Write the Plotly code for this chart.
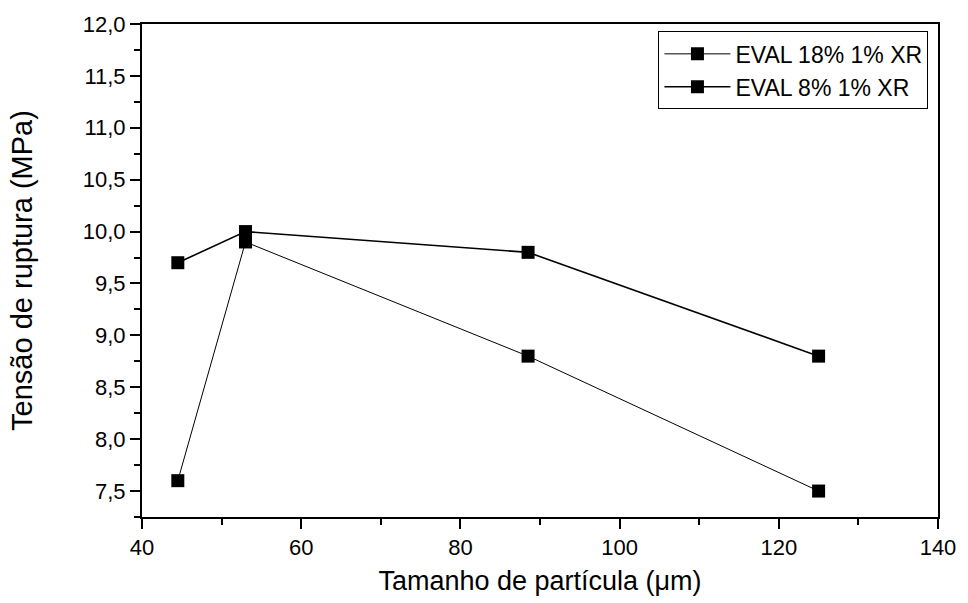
import plotly.graph_objects as go

# Particle size (µm) and tensile strength at break (MPa)
particle_size = [44.5, 53, 88.5, 125]
eval18_strength = [7.6, 9.9, 8.8, 7.5]
eval8_strength = [9.7, 10.0, 9.8, 8.8]

series_names = ["EVAL 18% 1% XR", "EVAL 8% 1% XR"]
y_ticks = [7.5, 8.0, 8.5, 9.0, 9.5, 10.0, 10.5, 11.0, 11.5, 12.0]
x_ticks = [40, 60, 80, 100, 120, 140]

FAMILY = "Liberation Sans, Arial, sans-serif"

fig = go.Figure()
fig.add_trace(go.Scatter(
    x=particle_size, y=eval18_strength, name=series_names[0],
    mode="lines+markers",
    line=dict(color="black", width=1),
    marker=dict(symbol="square", size=13, color="black"),
))
fig.add_trace(go.Scatter(
    x=particle_size, y=eval8_strength, name=series_names[1],
    mode="lines+markers",
    line=dict(color="black", width=1.6),
    marker=dict(symbol="square", size=13, color="black"),
))

tick_font = dict(family=FAMILY, size=22, color="black")

fig.update_layout(
    width=968, height=603,
    margin=dict(l=142, r=22, t=19, b=84),
    paper_bgcolor="white", plot_bgcolor="white",
    separators=",.",
    font=tick_font,
    showlegend=True,
    legend=dict(
        x=0.988, y=0.985, xanchor="right", yanchor="top",
        bordercolor="black", borderwidth=1, bgcolor="white",
        font=dict(family=FAMILY, size=23, color="black"),
        tracegroupgap=0, itemwidth=66,
    ),
    xaxis=dict(
        range=[40, 140], tickvals=x_ticks,
        showgrid=False, zeroline=False,
        showline=True, linecolor="black", linewidth=2, mirror=True,
        ticks="outside", ticklen=10, tickwidth=2, tickcolor="black",
        minor=dict(dtick=10, tick0=40, ticks="outside", ticklen=6, tickwidth=2, tickcolor="black"),
        title=dict(text="Tamanho de partícula (μm)",
                   font=dict(family=FAMILY, size=27, color="black"), standoff=12),
        tickfont=tick_font,
    ),
    yaxis=dict(
        range=[7.25, 12.0], tickvals=y_ticks, tickformat=".1f",
        showgrid=False, zeroline=False,
        showline=True, linecolor="black", linewidth=2, mirror=True,
        ticks="outside", ticklen=10, tickwidth=2, tickcolor="black",
        minor=dict(dtick=0.25, tick0=7.25, ticks="outside", ticklen=6, tickwidth=2, tickcolor="black"),
        title=dict(text="Tensão de ruptura (MPa)",
                   font=dict(family=FAMILY, size=29, color="black"), standoff=42),
        tickfont=tick_font,
    ),
)

fig.write_html("out.html")
